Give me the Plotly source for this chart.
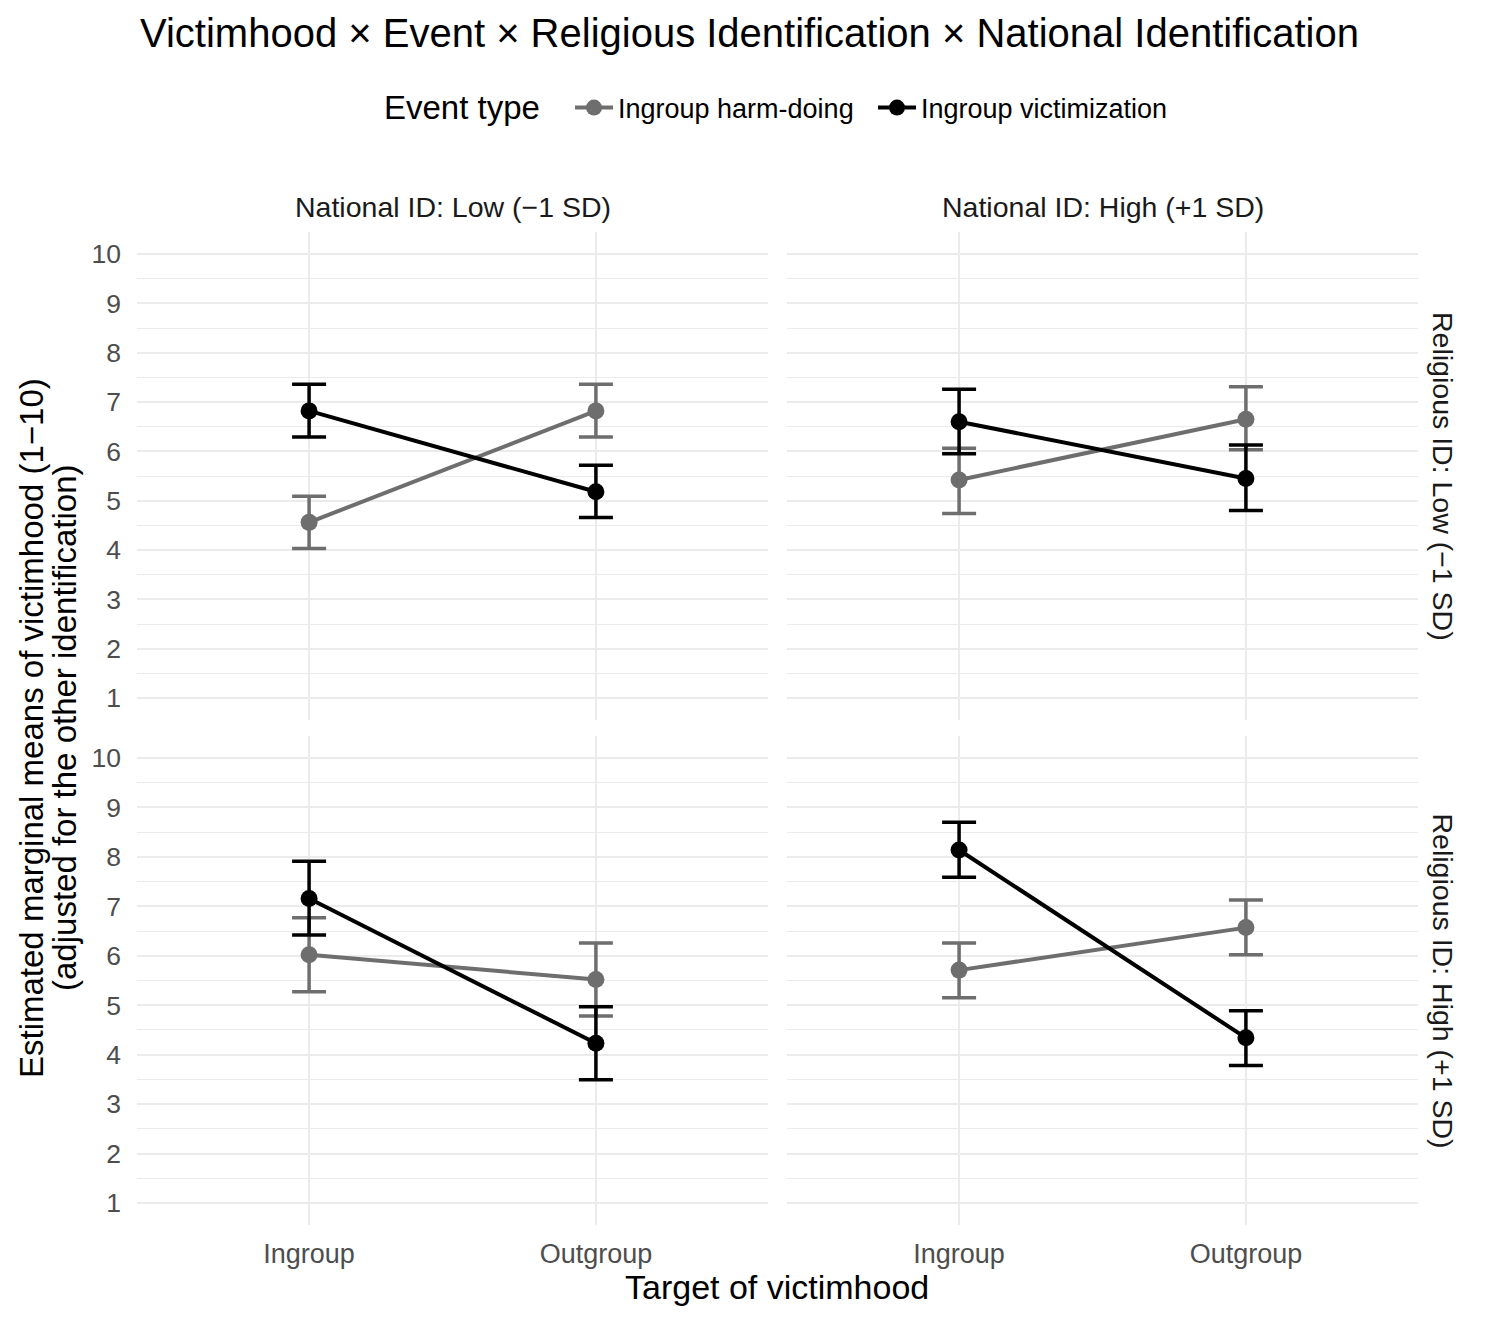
import plotly.graph_objects as go

# page body adds an 8px margin; the figure is sized and positioned to compensate
OFF = 8
W, H = 1472, 1305

# ---- data ----
targets = ["Ingroup", "Outgroup"]
event_types = ["Ingroup harm-doing", "Ingroup victimization"]
nat_labels = ["National ID: Low (−1 SD)", "National ID: High (+1 SD)"]
rel_labels = ["Religious ID: Low (−1 SD)", "Religious ID: High (+1 SD)"]
y_ticks = [1, 2, 3, 4, 5, 6, 7, 8, 9, 10]

# panel order: (NatLow,RelLow), (NatHigh,RelLow), (NatLow,RelHigh), (NatHigh,RelHigh)
harm_mean = [[4.56, 6.82], [5.42, 6.65], [6.02, 5.52], [5.71, 6.57]]
harm_lo = [[4.03, 6.29], [4.74, 6.03], [5.27, 4.78], [5.15, 6.02]]
harm_hi = [[5.09, 7.36], [6.06, 7.31], [6.77, 6.26], [6.26, 7.13]]
vict_mean = [[6.82, 5.18], [6.60, 5.45], [7.16, 4.23], [8.14, 4.34]]
vict_lo = [[6.29, 4.66], [5.95, 4.80], [6.42, 3.49], [7.59, 3.78]]
vict_hi = [[7.36, 5.72], [7.26, 6.13], [7.91, 4.97], [8.70, 4.89]]

series = [
    (event_types[0], harm_mean, harm_lo, harm_hi, "#6E6E6E"),
    (event_types[1], vict_mean, vict_lo, vict_hi, "#000000"),
]

FONT = "Liberation Sans, Arial, Helvetica, sans-serif"
GRID = "#EBEBEB"


def fx(px):
    return (px - OFF) / W


def fy(py):
    return 1 - (py - OFF) / H


px_x = [(137, 768), (787, 1418)]
px_y = [(231.8, 720.2), (735.8, 1225.2)]

fig = go.Figure()

for p in range(4):
    r, c = divmod(p, 2)
    n = p + 1
    xa = "x" if n == 1 else f"x{n}"
    ya = "y" if n == 1 else f"y{n}"
    for name, mean, lo, hi, col in series:
        m = mean[p]
        fig.add_trace(go.Scatter(
            x=targets, y=m, xaxis=xa, yaxis=ya,
            mode="lines+markers", name=name, legendgroup=name,
            showlegend=(p == 0),
            line=dict(color=col, width=4),
            marker=dict(color=col, size=17),
            error_y=dict(type="data", symmetric=False,
                         array=[h - v for h, v in zip(hi[p], m)],
                         arrayminus=[v - l for v, l in zip(m, lo[p])],
                         color=col, thickness=3.5, width=17),
            hoverinfo="skip",
        ))
    xk = "xaxis" if n == 1 else f"xaxis{n}"
    yk = "yaxis" if n == 1 else f"yaxis{n}"
    fig.layout[xk] = dict(
        domain=[fx(px_x[c][0]), fx(px_x[c][1])], anchor=ya,
        type="category", categoryorder="array", categoryarray=targets,
        range=[-0.6, 1.6], showgrid=True, gridcolor=GRID, gridwidth=2.2,
        zeroline=False, showline=False, ticks="",
        showticklabels=(r == 1), ticklabelstandoff=10,
        tickfont=dict(family=FONT, size=27, color="#4D4D4D"),
        fixedrange=True, automargin=False,
    )
    fig.layout[yk] = dict(
        domain=[fy(px_y[r][1]), fy(px_y[r][0])], anchor=xa,
        range=[0.55, 10.45], tickvals=y_ticks, showgrid=True,
        gridcolor=GRID, gridwidth=2.2,
        minor=dict(tickvals=[v + 0.5 for v in y_ticks[:-1]], showgrid=True,
                   gridcolor=GRID, gridwidth=1.2),
        zeroline=False, showline=False, ticks="",
        showticklabels=(c == 0), ticklabelstandoff=15,
        tickfont=dict(family=FONT, size=26.5, color="#4D4D4D"),
        fixedrange=True, automargin=False,
    )

ann = []
ann.append(dict(text="Victimhood × Event × Religious Identification × National Identification",
                x=fx(749), y=fy(33), xanchor="center", yanchor="middle",
                font=dict(family=FONT, size=40, color="#000000")))
ann.append(dict(text="Event type", x=fx(542), y=fy(108), xanchor="right", yanchor="middle",
                font=dict(family=FONT, size=33, color="#000000")))
for c in range(2):
    ann.append(dict(text=nat_labels[c], x=fx((px_x[c][0] + px_x[c][1]) / 2), y=fy(207),
                    xanchor="center", yanchor="middle",
                    font=dict(family=FONT, size=28.5, color="#1A1A1A")))
for r in range(2):
    ann.append(dict(text=rel_labels[r], x=fx(1443), y=fy((px_y[r][0] + px_y[r][1]) / 2),
                    xanchor="center", yanchor="middle", textangle=90,
                    font=dict(family=FONT, size=28.5, color="#1A1A1A")))
ann.append(dict(text="Target of victimhood", x=fx(777), y=fy(1287),
                xanchor="center", yanchor="middle",
                font=dict(family=FONT, size=34, color="#000000")))
ann.append(dict(text="Estimated marginal means of victimhood (1−10)",
                x=fx(31), y=fy(728), xanchor="center", yanchor="middle", textangle=-90,
                font=dict(family=FONT, size=33, color="#000000")))
ann.append(dict(text="(adjusted for the other identification)",
                x=fx(64), y=fy(728), xanchor="center", yanchor="middle", textangle=-90,
                font=dict(family=FONT, size=33, color="#000000")))
for a in ann:
    a.update(xref="paper", yref="paper", showarrow=False)

fig.update_layout(
    width=W, height=H,
    margin=dict(l=0, r=0, t=0, b=0),
    paper_bgcolor="white", plot_bgcolor="white",
    font=dict(family=FONT),
    annotations=ann,
    legend=dict(orientation="h", x=fx(570), xanchor="left", y=fy(108), yanchor="middle",
                font=dict(family=FONT, size=27, color="#000000"),
                itemwidth=38, entrywidth=250, entrywidthmode="pixels",
                bgcolor="rgba(0,0,0,0)"),
)

fig.write_html("out.html")
